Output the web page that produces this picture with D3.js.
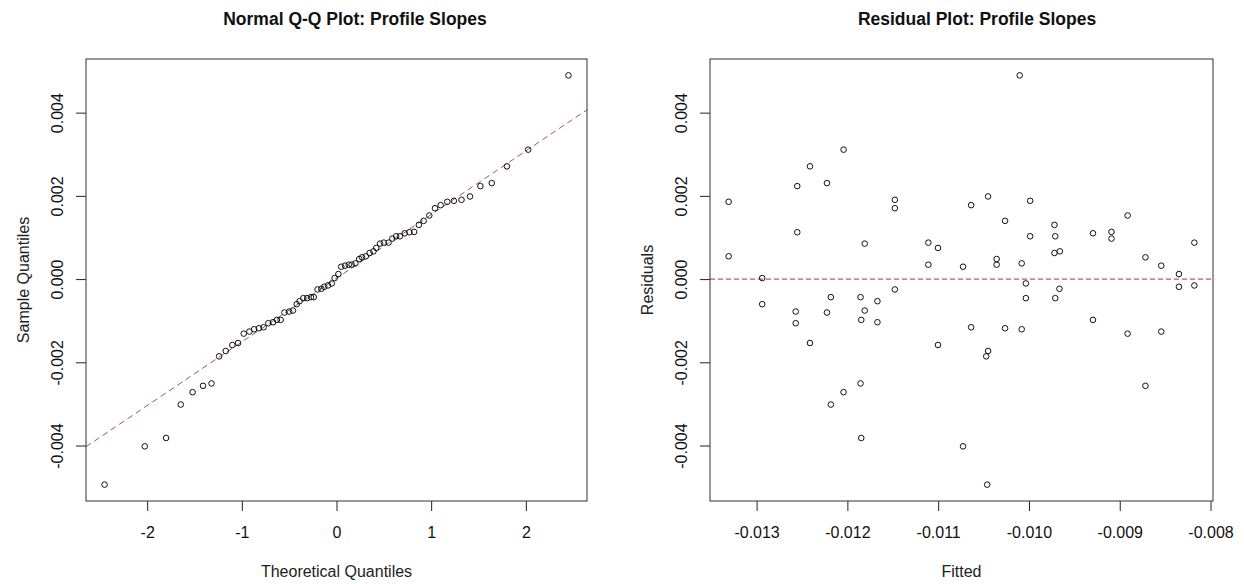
<!DOCTYPE html>
<html>
<head>
<meta charset="utf-8">
<script src="https://cdn.jsdelivr.net/npm/d3@7"></script>
<style>
  body { margin: 0; background: #fff; }
  svg { display: block; font-family: "Liberation Sans", Arial, sans-serif; }
</style>
</head>
<body>
<div id="chart-area"></div>
<script>
const fitted = [
  -0.013308, -0.013308, -0.012938, -0.012938, -0.012552, -0.012552, -0.012569, -0.012569, -0.012412, -0.012412,
  -0.012225, -0.012225, -0.012182, -0.012182, -0.012042, -0.012042, -0.011855, -0.011847, -0.011809, -0.011809,
  -0.011855, -0.011847, -0.011669, -0.011669, -0.011477, -0.011477, -0.011477, -0.011108, -0.011108, -0.011002,
  -0.011002, -0.010726, -0.010726, -0.010637, -0.010637, -0.010450, -0.010450, -0.010471, -0.010356, -0.010356,
  -0.010263, -0.010263, -0.010102, -0.010080, -0.010080, -0.010034, -0.010034, -0.009987, -0.009987, -0.009719,
  -0.009710, -0.009719, -0.009660, -0.009710, -0.009664, -0.009295, -0.009295, -0.009091, -0.009091, -0.008913,
  -0.008913, -0.008717, -0.008717, -0.008543, -0.008543, -0.008348, -0.008348, -0.008178, -0.008178, -0.010460
];

const residuals = [
  0.001857, 0.000547, 0.000024, -0.000603, 0.002235, 0.001126, -0.000780, -0.001061, 0.002710, -0.001536,
  0.002307, -0.000804, -0.000434, -0.003015, 0.003111, -0.002718, -0.000434, -0.000981, 0.000852, -0.000756,
  -0.002508, -0.003819, -0.000531, -0.001037, 0.001905, 0.001704, -0.000249, 0.000876, 0.000346, 0.000748,
  -0.001584, 0.000297, -0.004020, 0.001777, -0.001158, 0.001986, -0.001729, -0.001857, 0.000482, 0.000346,
  0.001399, -0.001182, 0.004896, 0.000378, -0.001206, -0.000105, -0.000458, 0.001881, 0.001029, 0.001302,
  0.001029, 0.000627, 0.000667, -0.000458, -0.000233, 0.001101, -0.000981, 0.001134, 0.000973, 0.001528,
  -0.001311, 0.000523, -0.002565, 0.000322, -0.001262, 0.000121, -0.000185, 0.000876, -0.000153, -0.004940
];

// theoretical normal quantiles for n = 70 (sorted)
const theoQuantiles = [
  -2.45, -2.025, -1.80, -1.645, -1.52, -1.41, -1.32, -1.24, -1.17, -1.10,
  -1.04, -0.98, -0.92, -0.87, -0.82, -0.77, -0.72, -0.67, -0.63, -0.59,
  -0.55, -0.50, -0.46, -0.42, -0.39, -0.35, -0.31, -0.27, -0.24, -0.20,
  -0.16, -0.13, -0.09, -0.05, -0.02, 0.02, 0.05, 0.09, 0.13, 0.16,
  0.20, 0.24, 0.27, 0.31, 0.35, 0.39, 0.42, 0.46, 0.50, 0.55,
  0.59, 0.63, 0.67, 0.72, 0.77, 0.82, 0.87, 0.92, 0.98, 1.04,
  1.10, 1.17, 1.24, 1.32, 1.41, 1.52, 1.64, 1.80, 2.025, 2.45
];

// qq reference line: [intercept, slope]
const qqLineCoef = [0.00002, 0.00153];

const qqXTicks = [-2, -1, 0, 1, 2];
const fitXTicks = [-0.013, -0.012, -0.011, -0.010, -0.009, -0.008];
const yTicks = [-0.004, -0.002, 0.000, 0.002, 0.004];

const width = 1244;
const height = 584;

const fmt = d3.formatLocale({ decimal: ".", thousands: ",", grouping: [3], currency: ["", ""], minus: "-" });
const f3 = fmt.format(".3f");
const f0 = fmt.format("d");

// R style 4% padding on data range
const pad = ext => {
  const r = ext[1] - ext[0];
  return [ext[0] - 0.04 * r, ext[1] + 0.04 * r];
};

const svg = d3.select("#chart-area")
  .append("svg")
  .attr("width", width)
  .attr("height", height);

svg.append("rect").attr("width", width).attr("height", height).attr("fill", "#fff");

const panel = (opts) => {
  const { left, right, top, bottom } = opts;
  const xScale = d3.scaleLinear().domain(opts.xDomain).range([left, right]);
  const yScale = d3.scaleLinear().domain(opts.yDomain).range([bottom, top]);
  const g = svg.append("g");

  const clipId = "clip-" + left;
  g.append("clipPath").attr("id", clipId)
    .append("rect").attr("x", left).attr("y", top)
    .attr("width", right - left).attr("height", bottom - top);

  // x axis
  const xa = g.append("g")
    .attr("transform", `translate(0,${bottom})`)
    .call(d3.axisBottom(xScale).tickValues(opts.xTicks).tickFormat(opts.xFormat)
      .tickSize(10).tickPadding(16).tickSizeOuter(0));
  xa.select(".domain").remove();
  xa.selectAll("line").attr("stroke", "#222");
  xa.selectAll("text").style("font-size", "16px").attr("fill", "#111");

  // y axis with rotated labels
  const ya = g.append("g")
    .attr("transform", `translate(${left},0)`)
    .call(d3.axisLeft(yScale).tickValues(yTicks).tickFormat(f3).tickSize(10).tickSizeOuter(0));
  ya.select(".domain").remove();
  ya.selectAll("line").attr("stroke", "#222");
  ya.selectAll("text")
    .attr("x", 0).attr("dy", 0)
    .attr("text-anchor", "middle")
    .attr("transform", "translate(-23,0) rotate(-90)")
    .style("font-size", "16px").attr("fill", "#111");

  // reference line
  const ln = g.append("g").attr("clip-path", `url(#${clipId})`);
  opts.refLine(ln, xScale, yScale);

  // points
  g.append("g").selectAll("circle")
    .data(opts.points)
    .enter()
    .append("circle")
    .attr("cx", d => xScale(d[0]))
    .attr("cy", d => yScale(d[1]))
    .attr("r", 2.8)
    .attr("fill", "none")
    .attr("stroke", "#111")
    .attr("stroke-width", 1);

  // box
  g.append("rect")
    .attr("x", left).attr("y", top)
    .attr("width", right - left).attr("height", bottom - top)
    .attr("fill", "none").attr("stroke", "#333").attr("stroke-width", 1);

  // titles
  svg.append("text")
    .attr("x", opts.titleX).attr("y", 25)
    .attr("text-anchor", "middle")
    .style("font-size", "17.5px").style("font-weight", "bold")
    .attr("fill", "#111")
    .text(opts.title);

  svg.append("text")
    .attr("x", (left + right) / 2).attr("y", 577)
    .attr("text-anchor", "middle")
    .style("font-size", "16px").attr("fill", "#222")
    .text(opts.xLabel);

  svg.append("text")
    .attr("transform", `translate(${left - 57},${(top + bottom) / 2}) rotate(-90)`)
    .attr("text-anchor", "middle")
    .style("font-size", "16px").attr("fill", "#222")
    .text(opts.yLabel);
};

const yDomain = pad(d3.extent(residuals));
const sortedRes = residuals.slice().sort(d3.ascending);

panel({
  left: 86, right: 587, top: 59, bottom: 501,
  xDomain: pad(d3.extent(theoQuantiles)),
  yDomain: yDomain,
  xTicks: qqXTicks,
  xFormat: f0,
  points: theoQuantiles.map((q, i) => [q, sortedRes[i]]),
  title: "Normal Q-Q Plot: Profile Slopes",
  titleX: 355,
  xLabel: "Theoretical Quantiles",
  yLabel: "Sample Quantiles",
  refLine: (ln, x, y) => {
    const [x0, x1] = x.domain();
    ln.append("line")
      .attr("x1", x(x0)).attr("y1", y(qqLineCoef[0] + qqLineCoef[1] * x0))
      .attr("x2", x(x1)).attr("y2", y(qqLineCoef[0] + qqLineCoef[1] * x1))
      .attr("stroke", "#b0505c").attr("stroke-width", 1)
      .attr("stroke-dasharray", "6,4");
  }
});

panel({
  left: 710, right: 1213, top: 59, bottom: 501,
  xDomain: pad(d3.extent(fitted)),
  yDomain: yDomain,
  xTicks: fitXTicks,
  xFormat: f3,
  points: fitted.map((f, i) => [f, residuals[i]]),
  title: "Residual Plot: Profile Slopes",
  titleX: 977,
  xLabel: "Fitted",
  yLabel: "Residuals",
  refLine: (ln, x, y) => {
    ln.append("line")
      .attr("x1", x.range()[0]).attr("y1", y(0))
      .attr("x2", x.range()[1]).attr("y2", y(0))
      .attr("stroke", "#cc2222").attr("stroke-width", 1)
      .attr("stroke-dasharray", "5,3");
  }
});
</script>
</body>
</html>
